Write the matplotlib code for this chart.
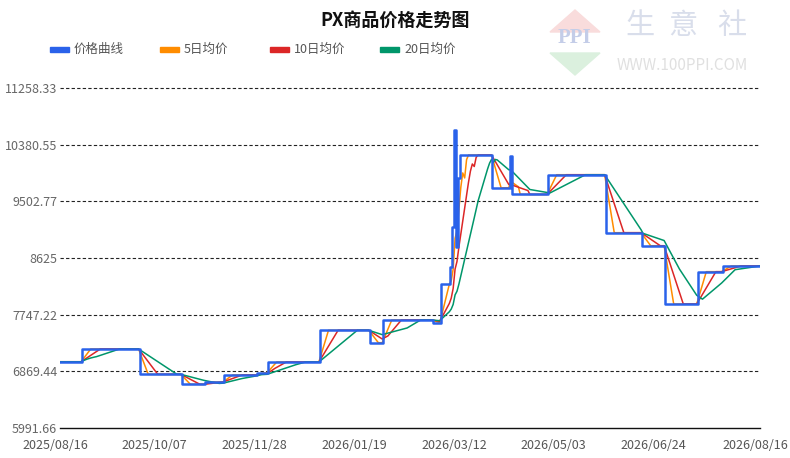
import matplotlib
matplotlib.use("Agg")
import matplotlib.pyplot as plt
from matplotlib.patches import Rectangle, Polygon
from matplotlib.transforms import ScaledTranslation
import pandas as pd

plt.rcParams['font.family'] = ['Noto Sans CJK SC', 'DejaVu Sans']

# price change points (the price holds until the next change)
changeDates = ["2025-08-16", "2025-08-28", "2025-09-27", "2025-10-19", "2025-10-31",
               "2025-11-10", "2025-11-27", "2025-12-03", "2025-12-30", "2026-01-25",
               "2026-02-01", "2026-02-27", "2026-03-03", "2026-03-08", "2026-03-09",
               "2026-03-10", "2026-03-11", "2026-03-12", "2026-03-13", "2026-03-30",
               "2026-04-08", "2026-04-09", "2026-04-28", "2026-05-28", "2026-06-16",
               "2026-06-28", "2026-07-15", "2026-07-28"]
changePrices = [7018, 7215, 6823, 6668, 6704,
                6813, 6848, 7014, 7505, 7313,
                7664, 7613, 8218, 8490, 9110,
                10608, 8800, 9865, 10220, 9713,
                10205, 9610, 9915, 9017, 8815,
                7912, 8413, 8501]
endDate = "2026-08-16"

yTicks = [5991.66, 6869.44, 7747.22, 8625, 9502.77, 10380.55, 11258.33]
yLabels = ["5991.66", "6869.44", "7747.22", "8625", "9502.77", "10380.55", "11258.33"]
xTickDates = ["2025-08-16", "2025-10-07", "2025-11-28", "2026-01-19",
              "2026-03-12", "2026-05-03", "2026-06-24", "2026-08-16"]
xLabels = [d.replace("-", "/") for d in xTickDates]

seriesNames = ["价格曲线", "5日均价", "10日均价", "20日均价"]
colors = ["#2a62ea", "#ff8c00", "#dc2626", "#00966a"]

steps = pd.Series(changePrices, index=pd.to_datetime(changeDates), dtype=float)
days = pd.date_range(changeDates[0], endDate, freq="D")
price = steps.reindex(days).ffill()
ma5 = price.rolling(5, min_periods=1).mean()
ma10 = price.rolling(10, min_periods=1).mean()
ma20 = price.rolling(20, min_periods=1).mean()

W, H = 790, 458
fig = plt.figure(figsize=(W / 100, H / 100), dpi=100)


def px(x, y):
    return x / W, 1 - y / H


ax = fig.add_axes([60 / W, 30 / H, 700 / W, 340 / H])
ax.plot(days, ma5, color=colors[1], lw=1.1, zorder=3)
ax.plot(days, ma10, color=colors[2], lw=1.1, zorder=3)
ax.plot(days, ma20, color=colors[3], lw=1.1, zorder=3)
ax.plot(days, price, color=colors[0], lw=1.8, drawstyle="steps-mid", zorder=4)

ax.set_xlim(pd.Timestamp(xTickDates[0]), pd.Timestamp(endDate))
ax.set_ylim(yTicks[0], yTicks[-1])
ax.set_yticks(yTicks, labels=yLabels)
ax.set_xticks(pd.to_datetime(xTickDates), labels=xLabels)
ax.set_xticks(pd.to_datetime(xTickDates[1:-1]), minor=True)
ax.tick_params(axis="y", length=0, pad=2, labelsize=9, labelcolor="#666666")
ax.tick_params(axis="x", which="major", length=0, pad=8, labelsize=9, labelcolor="#555555")
ax.tick_params(axis="x", which="minor", length=5, width=1, color="#222222")
for lab in ax.get_xticklabels():
    lab.set_transform(lab.get_transform() + ScaledTranslation(-5 / 100, 0, fig.dpi_scale_trans))

for y in yTicks[1:]:
    ax.axhline(y, color="#222222", lw=0.8, linestyle=(0, (3, 2)), zorder=1, clip_on=False)
for s in ["top", "right", "left"]:
    ax.spines[s].set_visible(False)
ax.spines["bottom"].set_color("#111111")
ax.spines["bottom"].set_linewidth(1)

# title
fig.text(*px(395, 20), "PX商品价格走势图", ha="center", va="center",
         fontsize=13, fontweight="bold", color="#111111")

# legend
legendX = [50, 160, 270, 380]
for lx, name, c in zip(legendX, seriesNames, colors):
    fx, fy = px(lx, 51.5)
    fig.patches.append(Rectangle((fx, fy), 19 / W, 5 / H, transform=fig.transFigure,
                                 color=c, zorder=5))
    fig.text(*px(lx + 24, 49), name, ha="left", va="center", fontsize=9, color="#555555")

# watermark logo
fig.patches.append(Polygon([px(550, 32), px(600, 32), px(575, 10)], closed=True,
                           transform=fig.transFigure, color="#f9dcdc", zorder=0))
fig.patches.append(Polygon([px(550, 53), px(600, 53), px(575, 75)], closed=True,
                           transform=fig.transFigure, color="#dbf0de", zorder=0))
fig.text(*px(575, 38), "PPI", ha="center", va="center", fontsize=15, fontweight="bold",
         family="Liberation Serif", color="#c4cde8")
for cx, ch in zip([640, 683, 732], "生意社"):
    fig.text(*px(cx, 26), ch, ha="center", va="center", fontsize=21, color="#d9deeb")
fig.text(*px(682, 66), "WWW.100PPI.COM", ha="center", va="center", fontsize=11,
         color="#e0e0e0")

fig.savefig("out.png", dpi=100)
